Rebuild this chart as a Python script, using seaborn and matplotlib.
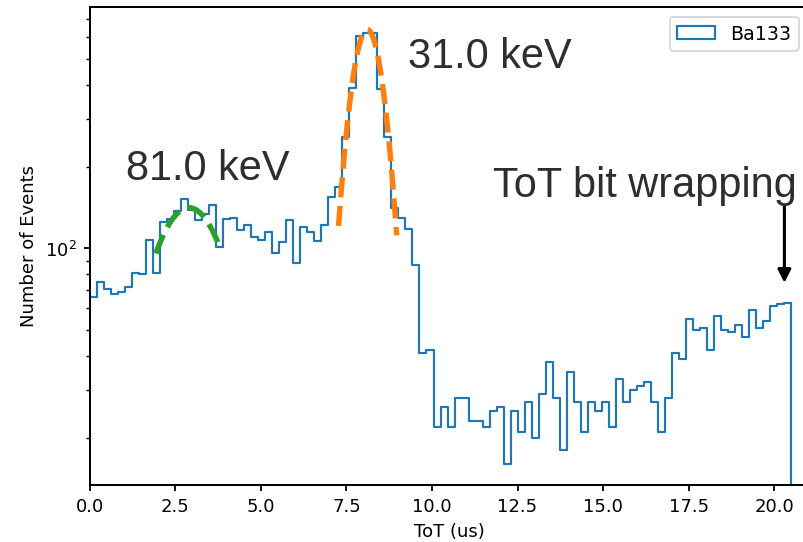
import numpy as np
import pandas as pd
import matplotlib
matplotlib.use("Agg")
import matplotlib.pyplot as plt
import matplotlib.patches as mpatches
from matplotlib.ticker import NullFormatter
import seaborn as sns

# ToT histogram of the Ba133 source: 100 bins between 0 and 20.5 us
tot_min, tot_max, n_bins = 0.0, 20.5, 100
counts = [
    66, 75, 71, 68, 69, 72, 81, 80, 107, 81,
    125, 128, 137, 152, 138, 127, 134, 144, 101, 128,
    129, 117, 122, 110, 107, 115, 96, 105, 127, 88,
    120, 115, 106, 122, 154, 168, 258, 389, 607, 620,
    620, 387, 256, 141, 129, 118, 87, 41, 42, 22,
    26, 22, 28, 28, 23, 23, 22, 25, 26, 16,
    25, 21, 27, 20, 29, 38, 28, 18, 35, 27,
    21, 27, 25, 27, 22, 33, 27, 30, 31, 32,
    27, 21, 28, 41, 39, 55, 50, 51, 42, 56,
    50, 49, 52, 47, 59, 51, 54, 61, 62, 63,
]
series_label = "Ba133"

# Gaussian fits of the two photo-peaks: (amplitude, mean, sigma, fit range)
fit_81 = dict(amp=141.0, mean=2.90, sigma=1.10, lo=1.93, hi=3.79)
fit_31 = dict(amp=640.0, mean=8.11, sigma=0.46, lo=7.27, hi=8.97)

peak_labels = ["81.0 keV", "31.0 keV"]
wrap_label = "ToT bit wrapping"

edges = np.linspace(tot_min, tot_max, n_bins + 1)
centers = 0.5 * (edges[:-1] + edges[1:])
df = pd.DataFrame({"tot": centers, "n": counts})

plt.rcParams["axes.linewidth"] = 1.1
plt.rcParams["xtick.major.width"] = 1.0
plt.rcParams["ytick.major.width"] = 1.0
plt.rcParams["ytick.minor.width"] = 0.8
plt.rcParams["legend.fontsize"] = 10.5

DPI = 130
fig = plt.figure(figsize=(803.4 / DPI, 542.4 / DPI), dpi=DPI)
ax = fig.add_axes([89.7 / 803, 1 - 485 / 542, (808 - 89.7) / 803, (485 - 7.5) / 542])

blue = "#1f77b4"
sns.histplot(data=df, x="tot", weights="n", bins=edges.tolist(), element="step",
             fill=False, color=blue, linewidth=1.2, ax=ax)

ax.set_yscale("log")
ax.set_ylim(13.4, 774)
ax.set_xlim(0, 21.0)

# closing edge of the last bin down to the axis floor
ax.vlines(edges[-1], ax.get_ylim()[0], counts[-1], color=blue, linewidth=1.2)


def gauss_curve(p):
    x = np.linspace(p["lo"], p["hi"], 200)
    y = p["amp"] * np.exp(-((x - p["mean"]) ** 2) / (2 * p["sigma"] ** 2))
    return x, y


gx, gy = gauss_curve(fit_81)
ox, oy = gauss_curve(fit_31)
sns.lineplot(x=gx, y=gy, ax=ax, color="#2ca02c", linestyle="--", linewidth=3,
             sort=False)
sns.lineplot(x=ox, y=oy, ax=ax, color="#ff7f0e", linestyle="--", linewidth=3,
             sort=False)

ax.yaxis.set_minor_formatter(NullFormatter())
ax.set_xlabel("ToT (us)")
ax.set_ylabel("Number of Events")

handle = mpatches.Patch(facecolor="none", edgecolor=blue, linewidth=1.2,
                        label=series_label)
ax.legend(handles=[handle], loc="upper right")

# slide annotations
txt_kw = dict(family=["Liberation Sans", "DejaVu Sans"], fontsize=23,
              color="#2e2e2e", ha="left", va="baseline")
fig.text(126 / 803, 1 - 180 / 542, peak_labels[0], **txt_kw)
fig.text(408 / 803, 1 - 68 / 542, peak_labels[1], **txt_kw)
fig.text(493 / 803, 1 - 197 / 542, wrap_label, **txt_kw)
ax.annotate("", xy=(784 / 803, 1 - 283 / 542), xytext=(784 / 803, 1 - 206 / 542),
            xycoords="figure fraction", textcoords="figure fraction",
            arrowprops=dict(arrowstyle="-|>", color="black", lw=1.7,
                            mutation_scale=15, shrinkA=0, shrinkB=0))

fig.savefig("out.png", dpi=DPI)
